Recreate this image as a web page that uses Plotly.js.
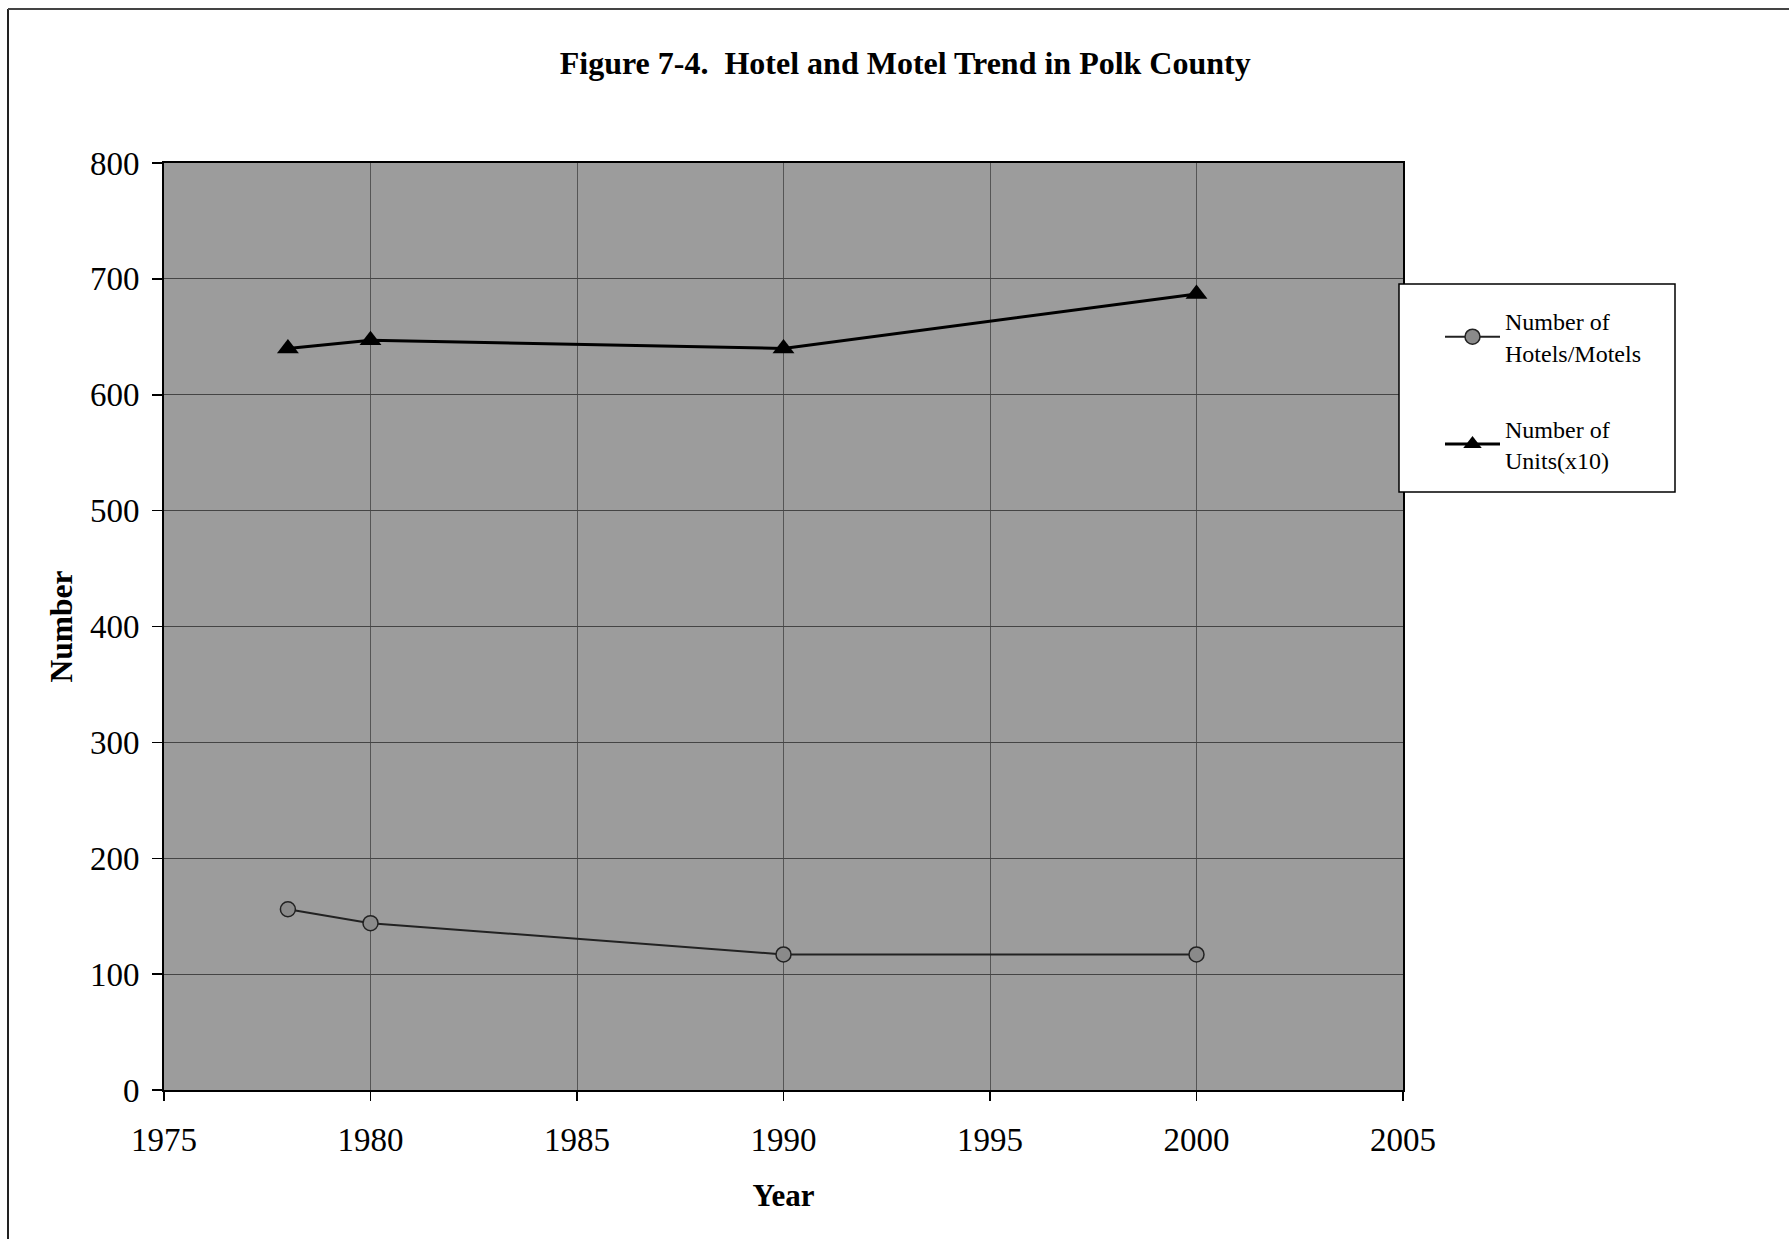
<!DOCTYPE html>
<html>
<head>
<meta charset="utf-8">
<script src="https://cdn.plot.ly/plotly-3.0.1.min.js"></script>
<style>html,body{margin:0;padding:0;background:#fff;}#chart{width:1789px;height:1239px;}</style>
</head>
<body>
<div id="chart"></div>
<script>
// Data
const years = [1978, 1980, 1990, 2000];
const hotelsMotels = [156, 144, 117, 117];
const unitsX10 = [640, 647, 640, 687];
const seriesNames = ["Number of<br>Hotels/Motels", "Number of<br>Units(x10)"];
const xTicks = [1975, 1980, 1985, 1990, 1995, 2000, 2005];
const yTicks = [0, 100, 200, 300, 400, 500, 600, 700, 800];

const serif = "Liberation Serif, Times New Roman, serif";

const traces = [
  {
    x: years, y: hotelsMotels, name: seriesNames[0], type: "scatter", mode: "lines+markers",
    line: {color: "#222", width: 2},
    marker: {symbol: "circle", size: 15, color: "#8a8a8a", line: {color: "#222", width: 1.5}},
    legendgroup: "a"
  },
  {
    x: years, y: unitsX10, name: seriesNames[1], type: "scatter", mode: "lines+markers",
    line: {color: "#000", width: 3},
    marker: {symbol: "triangle-up", size: 19, color: "#000"},
    legendgroup: "b"
  }
];

const L = 164, R = 1403, T = 163, B = 1090;
const W = R - L, H = B - T;
const px = v => (v - L) / W;
const py = v => (B - v) / H;

const layout = {
  width: 1789, height: 1239,
  margin: {l: L, r: 1789 - R, t: T, b: 1239 - B},
  paper_bgcolor: "#ffffff",
  plot_bgcolor: "#9c9c9c",
  font: {family: serif, color: "#000", size: 30},
  title: {
    text: "<b>Figure 7-4.  Hotel and Motel Trend in Polk County</b>",
    font: {family: serif, size: 32, color: "#000"},
    xref: "container", x: 0.506, xanchor: "center",
    yref: "container", y: 1 - 63 / 1239, yanchor: "middle"
  },
  xaxis: {
    range: [1975, 2005], tickvals: xTicks, ticktext: xTicks.map(String),
    showgrid: true, gridcolor: "#555", gridwidth: 1,
    showline: true, linecolor: "#000", linewidth: 2, mirror: true,
    ticks: "outside", ticklen: 9, tickcolor: "#000", tickwidth: 1.5,
    ticklabelstandoff: 10,
    tickfont: {family: serif, size: 33, color: "#000"},
    zeroline: false,
    title: {text: "<b>Year</b>", font: {family: serif, size: 31, color: "#000"}, standoff: 28}
  },
  yaxis: {
    range: [0, 800], tickvals: yTicks, ticktext: yTicks.map(String),
    showgrid: true, gridcolor: "#444", gridwidth: 1,
    showline: true, linecolor: "#000", linewidth: 2, mirror: true,
    ticks: "outside", ticklen: 10, tickcolor: "#000", tickwidth: 1.5,
    ticklabelstandoff: 6,
    tickfont: {family: serif, size: 33, color: "#000"},
    zeroline: false,
    title: {text: "<b>Number</b>", font: {family: serif, size: 31.5, color: "#000"}, standoff: 8}
  },
  showlegend: true,
  legend: {
    x: px(1440), xanchor: "left", y: py(299), yanchor: "top",
    bgcolor: "rgba(0,0,0,0)", borderwidth: 0,
    font: {family: serif, size: 24, color: "#000"},
    traceorder: "grouped", tracegroupgap: 42,
    itemwidth: 55
  },
  shapes: [
    // legend frame
    {type: "rect", xref: "paper", yref: "paper", x0: px(1399), x1: px(1675), y0: py(492), y1: py(284),
     fillcolor: "#ffffff", line: {color: "#000", width: 1.5}, layer: "above"},
    // outer page border (left and top)
    {type: "line", xref: "paper", yref: "paper", x0: px(8), x1: px(8), y0: py(1239), y1: py(9),
     line: {color: "#222", width: 2}},
    {type: "line", xref: "paper", yref: "paper", x0: px(8), x1: px(1789), y0: py(9), y1: py(9),
     line: {color: "#444", width: 2}}
  ]
};

Plotly.newPlot("chart", traces, layout, {displayModeBar: false, staticPlot: true});
</script>
</body>
</html>
